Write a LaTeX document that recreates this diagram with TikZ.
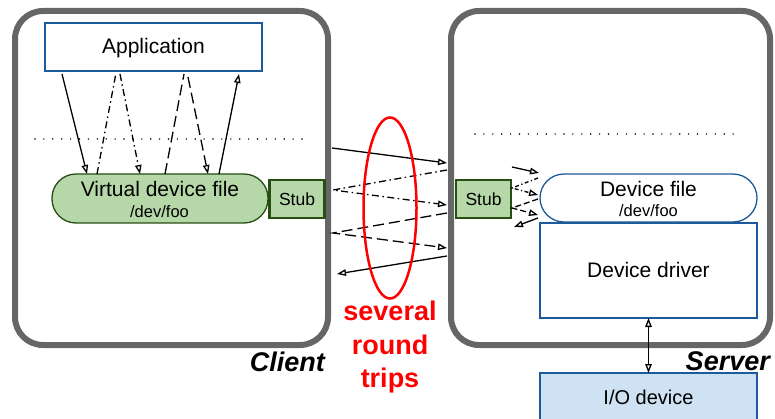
\documentclass[tikz,border=0pt]{standalone}
\usepackage{fontspec}
\setmainfont{Liberation Sans}
\usetikzlibrary{arrows.meta,calc,shapes.geometric}
\definecolor{boxgray}{HTML}{666666}
\definecolor{bluedge}{HTML}{1C5A9A}
\definecolor{greenfill}{HTML}{B6D7A8}
\definecolor{greenedge}{HTML}{274E13}
\definecolor{iofill}{HTML}{CFE2F3}
\definecolor{tripred}{HTML}{FF0000}
\begin{document}
\begin{tikzpicture}[x=1pt,y=-1pt,
  hostbox/.style={draw=boxgray,line width=6pt,rounded corners=28pt,outer sep=0pt,inner sep=0pt},
  bluebox/.style={draw=bluedge,line width=2pt,fill=white,outer sep=0pt,inner sep=0pt,font=\fontsize{21}{25}\selectfont,text depth=0pt},
  stubbox/.style={draw=greenedge,line width=2.6pt,fill=greenfill,outer sep=0pt,inner sep=0pt,minimum width=55pt,minimum height=38pt,font=\fontsize{17.5}{20}\selectfont,text height=13pt,text depth=0pt},
  bigtxt/.style={font=\fontsize{21}{25}\selectfont,anchor=base,inner sep=0pt},
  smalltxt/.style={font=\fontsize{16.5}{19}\selectfont,anchor=base,inner sep=0pt},
  hosttxt/.style={font=\fontsize{27}{32}\selectfont\bfseries\itshape,anchor=base east,inner sep=0pt},
  triptxt/.style={font=\fontsize{27}{32}\selectfont\bfseries,text=tripred,anchor=base,inner sep=0pt},
  ln/.style={line width=1.3pt},
  arr/.style={line width=1.3pt,-{Triangle[open,length=9pt,width=6.5pt]}},
  dashdot/.style={dash pattern=on 7pt off 3.5pt on 1.5pt off 3.5pt},
  longdash/.style={dash pattern=on 11pt off 5pt},
  dotline/.style={line width=1.6pt,line cap=round,dash pattern=on 0pt off 8.9pt}
]
\useasboundingbox (0,0) rectangle (775,419);

% host boxes
\node[hostbox,minimum width=313pt,minimum height=334pt] (client) at (171.5,178) {};
\node[hostbox,minimum width=319pt,minimum height=334pt] (server) at (610.5,178) {};

% client side
\node[bluebox,minimum width=217pt,minimum height=48pt,text height=14pt] (app) at (153.5,47) {Application};
\draw[dotline] (35,139) -- (302,139);
\node[draw=greenedge,line width=1.3pt,fill=greenfill,minimum width=216pt,minimum height=49pt,rounded corners=24pt,outer sep=0pt,inner sep=0pt] (vdf) at (160,198.5) {};
\node[bigtxt] (vdftxt) at (160,197) {Virtual device file};
\node[smalltxt] (vdfpath) at (159.5,218) {/dev/foo};
\node[stubbox] (cstub) at (297,199) {Stub};

% server side
\draw[dotline] (475,134) -- (740,134);
\node[stubbox] (sstub) at (483.5,199) {Stub};
\node[draw=bluedge,line width=1.3pt,fill=white,minimum width=217pt,minimum height=48pt,rounded corners=24pt,outer sep=0pt,inner sep=0pt] (dfile) at (648.5,198) {};
\node[bigtxt] (dfiletxt) at (648.5,197) {Device file};
\node[smalltxt] (dfilepath) at (648.5,217) {/dev/foo};
\node[bluebox,minimum width=217pt,minimum height=95pt,text height=13pt] (driver) at (648.5,270.5) {Device driver};
\node[bluebox,fill=iofill,minimum width=217pt,minimum height=50pt,text height=12pt,font=\fontsize{20}{24}\selectfont] (io) at (648.5,398) {I/O device};
\draw[line width=1.3pt,{Triangle[open,length=9pt,width=6.5pt]}-{Triangle[open,length=9pt,width=6.5pt]}] (driver.south) -- (io.north);

% client internal arrows
\draw[arr] ($(app.south west)+(17,3)$) -- ($(vdf.north west)+(35,0)$);
\draw[ln,dashdot] ($(vdf.north west)+(45,0)$) -- ($(app.south west)+(71,2)$);
\draw[arr,dashdot] ($(app.south west)+(75,3)$) -- ($(vdf.north west)+(88,0)$);
\draw[ln,longdash] ($(vdf.north west)+(113,0)$) -- ($(app.south west)+(139,3)$);
\draw[arr,longdash] ($(app.south west)+(143,6)$) -- ($(vdf.north west)+(156,0)$);
\draw[arr] ($(vdf.north west)+(167,0)$) -- ($(app.south west)+(194,3)$);

% round trips between hosts
\draw[arr] ($(client.east)+(4,-30)$) -- ($(server.west)+(-4,-15)$);
\draw[arr,dashdot] ($(server.west)+(-4,-8)$) -- ($(client.east)+(5,12)$) -- ($(server.west)+(-4,27)$);
\draw[arr,longdash] ($(server.west)+(-4,35)$) -- ($(client.east)+(5,55)$) -- ($(server.west)+(-4,70)$);
\draw[arr] ($(server.west)+(-4,78)$) -- ($(client.east)+(9,96)$);

% server stub arrows
\draw[arr] ($(sstub.east)+(1,-32)$) -- ($(dfile.west)+(-1,-25)$);
\draw[arr,dash pattern=on 4pt off 2.5pt on 1.2pt off 2.5pt] ($(dfile.west)+(-2,-20)$) -- ($(sstub.east)+(1,-11)$) -- ($(dfile.west)+(-2,-3)$);
\draw[arr,dash pattern=on 6pt off 3pt] ($(dfile.west)+(-2,1)$) -- ($(sstub.east)+(1,9)$) -- ($(dfile.west)+(-2,17)$);
\draw[arr] ($(dfile.west)+(-2,20)$) -- ($(sstub.east)+(3,28)$);

% red ellipse and labels
\node[ellipse,draw=tripred,line width=2.5pt,minimum width=53pt,minimum height=181pt,inner sep=0pt] (trips) at (390,208) {};
\node[triptxt] (t1) at (390,320) {several};
\node[triptxt] (t2) at (390,354) {round};
\node[triptxt] (t3) at (390,387) {trips};
\node[hosttxt] (clientlbl) at (325,371) {Client};
\node[hosttxt] (serverlbl) at (770,370) {Server};
\end{tikzpicture}
\end{document}
